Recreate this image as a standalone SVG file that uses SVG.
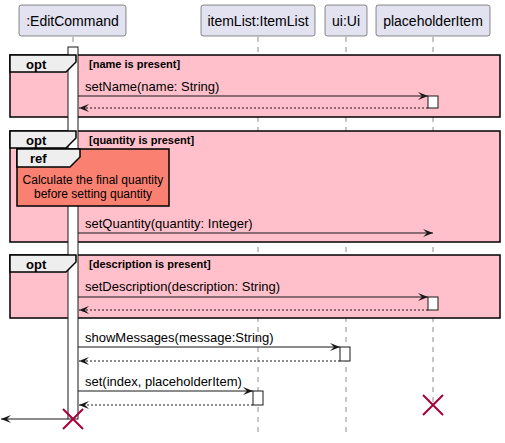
<svg xmlns="http://www.w3.org/2000/svg" width="505" height="443" viewBox="0 0 505 443">
<defs>
<style>
.part{fill:#E2E2F0;stroke:#181818;stroke-width:0.5}
.pname{font-family:"Liberation Sans",Arial,sans-serif;font-size:14px;fill:#000;text-anchor:middle}
.life{stroke:#181818;stroke-width:0.5;stroke-dasharray:5,5;fill:none}
.frame{fill:#FFC0CB;stroke:#000;stroke-width:1.5}
.tab{fill:#EEEEEE;stroke:#000;stroke-width:1.5}
.kw{font-family:"Liberation Sans",Arial,sans-serif;font-size:13px;font-weight:bold;fill:#000}
.guard{font-family:"Liberation Sans",Arial,sans-serif;font-size:11px;font-weight:bold;fill:#000}
.msg{font-family:"Liberation Sans",Arial,sans-serif;font-size:13px;fill:#000}
.reftxt{font-family:"Liberation Sans",Arial,sans-serif;font-size:12px;fill:#000;text-anchor:middle}
.act{fill:#FFFFFF;stroke:#181818;stroke-width:1}
.line{stroke:#181818;stroke-width:1;fill:none}
.ret{stroke:#181818;stroke-width:1;stroke-dasharray:2,2;fill:none}
.x{stroke:#A80036;stroke-width:2;fill:none}
</style>
<marker id="ah" viewBox="0 0 10 8" refX="10" refY="4" markerWidth="10" markerHeight="8" markerUnits="userSpaceOnUse" orient="auto">
<path d="M0,0 L10,4 L0,8 L4,4 Z" fill="#181818"/>
</marker>
</defs>
<rect width="505" height="443" fill="#FFFFFF"/>

<g id="lifelines">
<line class="life" x1="73" y1="37" x2="73" y2="47"/>
<line class="life" x1="258" y1="37" x2="258" y2="435"/>
<line class="life" x1="346" y1="37" x2="346" y2="435"/>
<line class="life" x1="433" y1="37" x2="433" y2="405"/>
</g>

<g id="participants">
<g id="p-editcommand"><rect class="part" x="19" y="5" width="107" height="31" rx="2.5"/><text class="pname" x="72.5" y="26">:EditCommand</text></g>
<g id="p-itemlist"><rect class="part" x="201" y="5" width="114" height="31" rx="2.5"/><text class="pname" x="258" y="26">itemList:ItemList</text></g>
<g id="p-ui"><rect class="part" x="325" y="5" width="42" height="31" rx="2.5"/><text class="pname" x="346" y="26">ui:Ui</text></g>
<g id="p-placeholder"><rect class="part" x="376" y="5" width="114" height="31" rx="2.5"/><text class="pname" x="433" y="26">placeholderItem</text></g>
</g>

<g id="frames">
<rect class="frame" x="10" y="55" width="490" height="62"/>
<rect class="frame" x="10" y="131" width="490" height="111"/>
<rect class="frame" x="10" y="255" width="490" height="63"/>
</g>

<g id="activation-editcommand">
<rect class="act" x="68" y="47" width="10" height="372"/>
</g>

<g id="opt-name">
<polygon class="tab" points="10,55 76,55 76,62 66,72 10,72"/>
<text class="kw" x="26" y="68.5">opt</text>
<text class="guard" x="89" y="67.5">[name is present]</text>
</g>
<g id="opt-quantity">
<polygon class="tab" points="10,131 76,131 76,138 66,148 10,148"/>
<text class="kw" x="26" y="144.5">opt</text>
<text class="guard" x="89" y="143.5">[quantity is present]</text>
</g>
<g id="ref-quantity">
<rect x="17" y="149" width="152" height="57" fill="#FA8072" stroke="#000" stroke-width="1.5"/>
<polygon class="tab" points="17,149 80,149 80,157 70,167 17,167"/>
<text class="kw" x="30" y="162.5">ref</text>
<text class="reftxt" x="93" y="184">Calculate the final quantity</text>
<text class="reftxt" x="93" y="198">before setting quantity</text>
</g>
<g id="opt-description">
<polygon class="tab" points="10,255 76,255 76,262 66,272 10,272"/>
<text class="kw" x="26" y="268.5">opt</text>
<text class="guard" x="89" y="267.5">[description is present]</text>
</g>

<g id="activations">
<rect class="act" x="428" y="96" width="10" height="12"/>
<rect class="act" x="428" y="297" width="10" height="13"/>
<rect class="act" x="340" y="347" width="10" height="14"/>
<rect class="act" x="253" y="391" width="10" height="14"/>
</g>

<g id="connectors">
<line class="line" x1="78" y1="96" x2="428" y2="96" marker-end="url(#ah)"/>
<line class="ret" x1="428" y1="108" x2="79" y2="108" marker-end="url(#ah)"/>
<line class="line" x1="78" y1="233" x2="433" y2="233" marker-end="url(#ah)"/>
<line class="line" x1="78" y1="297" x2="428" y2="297" marker-end="url(#ah)"/>
<line class="ret" x1="428" y1="310" x2="79" y2="310" marker-end="url(#ah)"/>
<line class="line" x1="78" y1="347" x2="340" y2="347" marker-end="url(#ah)"/>
<line class="ret" x1="340" y1="361" x2="79" y2="361" marker-end="url(#ah)"/>
<line class="line" x1="78" y1="391" x2="253" y2="391" marker-end="url(#ah)"/>
<line class="ret" x1="253" y1="405" x2="79" y2="405" marker-end="url(#ah)"/>
<line class="line" x1="68" y1="419" x2="1" y2="419" marker-end="url(#ah)"/>
</g>

<g id="labels">
<text class="msg" x="85" y="91">setName(name: String)</text>
<text class="msg" x="85" y="228">setQuantity(quantity: Integer)</text>
<text class="msg" x="85" y="291">setDescription(description: String)</text>
<text class="msg" x="85" y="342">showMessages(message:String)</text>
<text class="msg" x="85" y="386">set(index, placeholderItem)</text>
</g>

<g id="destroy">
<path class="x" d="M63,409 L83,429 M83,409 L63,429"/>
<path class="x" d="M423,395 L443,415 M443,395 L423,415"/>
</g>
</svg>
